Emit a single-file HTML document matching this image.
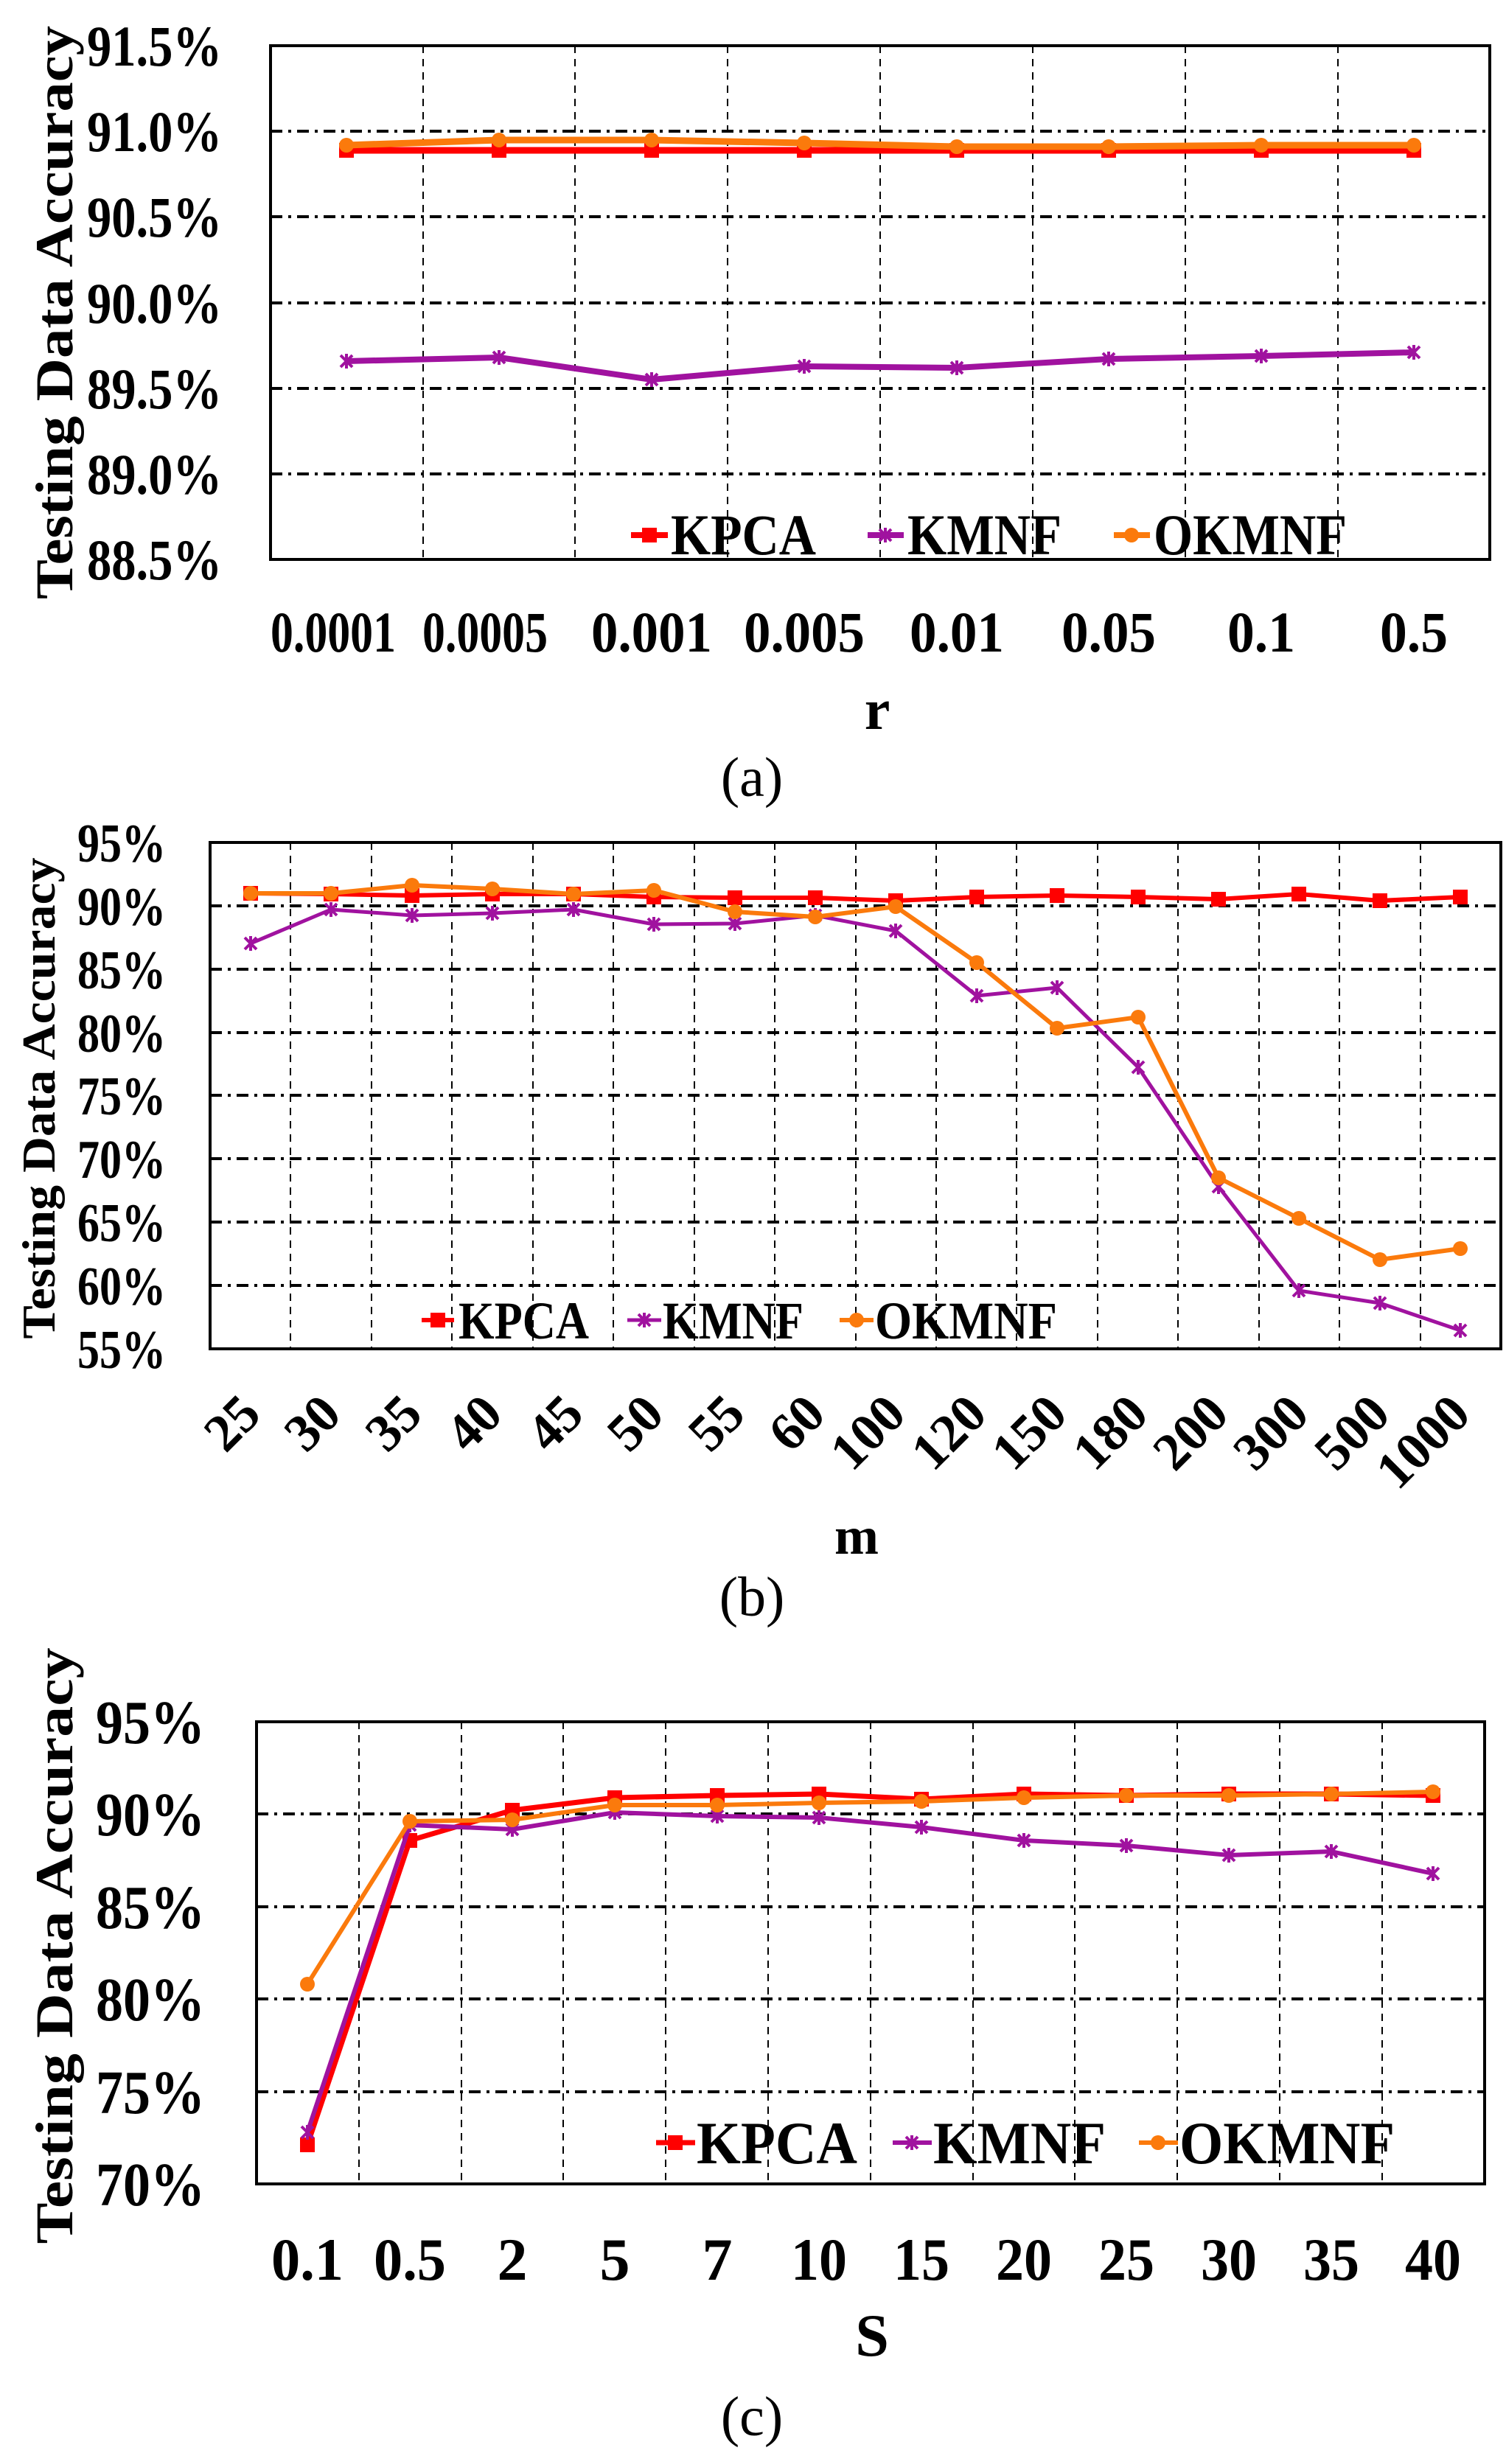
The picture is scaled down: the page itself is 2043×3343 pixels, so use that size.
<!DOCTYPE html>
<html><head><meta charset="utf-8"><style>
html,body{margin:0;padding:0;background:#fff;}
svg{display:block;}
text{font-family:"Liberation Serif",serif;font-weight:bold;fill:#000;}
.hg{stroke:#000;stroke-width:4;stroke-dasharray:16 8 4 8;fill:none;}
.vg{stroke:#000;stroke-width:2;stroke-dasharray:10 8;fill:none;}
.box{stroke:#000;stroke-width:4;fill:none;}
.kp{stroke:#ff0000;fill:none;stroke-linejoin:round;}
.km{stroke:#a0129f;fill:none;stroke-linejoin:round;}
.ok{stroke:#fb7a0c;fill:none;stroke-linejoin:round;}
</style></head><body>
<svg width="2043" height="3343" viewBox="0 0 2043 3343" xmlns="http://www.w3.org/2000/svg">
<defs>
<marker id="mS" markerUnits="userSpaceOnUse" markerWidth="24" markerHeight="24" refX="12" refY="12"><rect x="2" y="2" width="20" height="20" fill="#ff0000"/></marker>
<marker id="mX" markerUnits="userSpaceOnUse" markerWidth="24" markerHeight="24" refX="12" refY="12"><path d="M4 4L20 20M20 4L4 20M12 2V22" stroke="#a0129f" stroke-width="4"/></marker>
<marker id="mO" markerUnits="userSpaceOnUse" markerWidth="24" markerHeight="24" refX="12" refY="12"><circle cx="12" cy="12" r="10" fill="#fb7a0c"/></marker>
</defs>

<!-- ===== (a) ===== -->
<g>
<path class="hg" d="M367 178H2021M367 294H2021M367 411H2021M367 527H2021M367 643H2021"/>
<path class="vg" d="M574 62V759M780 62V759M987 62V759M1194 62V759M1401 62V759M1608 62V759M1815 62V759"/>
<rect class="box" x="367" y="62" width="1654" height="697"/>
<polyline class="kp" stroke-width="9" marker-start="url(#mS)" marker-mid="url(#mS)" marker-end="url(#mS)" points="470,204 677,204 884,204 1091,204 1298,204 1504,204 1711,204 1918,204"/>
<polyline class="ok" stroke-width="9" marker-start="url(#mO)" marker-mid="url(#mO)" marker-end="url(#mO)" points="470,197 677,190 884,190 1091,194 1298,199 1504,199 1711,197 1918,197"/>
<polyline class="km" stroke-width="8" marker-start="url(#mX)" marker-mid="url(#mX)" marker-end="url(#mX)" points="470,490 677,485 884,515 1091,497 1298,499 1504,487 1711,483 1918,478"/>
<g font-size="78" text-anchor="end">
<text x="301" y="89" textLength="183" lengthAdjust="spacingAndGlyphs">91.5%</text>
<text x="301" y="205" textLength="183" lengthAdjust="spacingAndGlyphs">91.0%</text>
<text x="301" y="321" textLength="183" lengthAdjust="spacingAndGlyphs">90.5%</text>
<text x="301" y="438" textLength="183" lengthAdjust="spacingAndGlyphs">90.0%</text>
<text x="301" y="554" textLength="183" lengthAdjust="spacingAndGlyphs">89.5%</text>
<text x="301" y="670" textLength="183" lengthAdjust="spacingAndGlyphs">89.0%</text>
<text x="301" y="786" textLength="183" lengthAdjust="spacingAndGlyphs">88.5%</text>
</g>
<text transform="translate(98,424) rotate(-90)" font-size="72" text-anchor="middle" textLength="778" lengthAdjust="spacingAndGlyphs">Testing Data Accuracy</text>
<g font-size="78" text-anchor="middle">
<text x="452" y="884" textLength="170" lengthAdjust="spacingAndGlyphs">0.0001</text>
<text x="658" y="884" textLength="170" lengthAdjust="spacingAndGlyphs">0.0005</text>
<text x="884" y="884" textLength="164" lengthAdjust="spacingAndGlyphs">0.001</text>
<text x="1091" y="884" textLength="164" lengthAdjust="spacingAndGlyphs">0.005</text>
<text x="1298" y="884" textLength="128" lengthAdjust="spacingAndGlyphs">0.01</text>
<text x="1504" y="884" textLength="128" lengthAdjust="spacingAndGlyphs">0.05</text>
<text x="1711" y="884" textLength="92" lengthAdjust="spacingAndGlyphs">0.1</text>
<text x="1918" y="884" textLength="92" lengthAdjust="spacingAndGlyphs">0.5</text>
<text x="1190" y="989">r</text>
</g>
<text x="1020" y="1080" font-size="76" text-anchor="middle" style="font-weight:normal">(a)</text>
<polyline points="856,726 881,726 906,726" stroke="#ff0000" stroke-width="8" marker-mid="url(#mS)"/>
<text x="910" y="752" font-size="78" textLength="197" lengthAdjust="spacingAndGlyphs">KPCA</text>
<polyline points="1177,726 1201,726 1226,726" stroke="#a0129f" stroke-width="8" marker-mid="url(#mX)"/>
<text x="1231" y="752" font-size="78" textLength="209" lengthAdjust="spacingAndGlyphs">KMNF</text>
<polyline points="1511,726 1535,726 1560,726" stroke="#fb7a0c" stroke-width="8" marker-mid="url(#mO)"/>
<text x="1565" y="752" font-size="78" textLength="262" lengthAdjust="spacingAndGlyphs">OKMNF</text>
</g>

<!-- ===== (b) ===== -->
<g>
<path class="hg" d="M285 1229H2036M285 1315H2036M285 1401H2036M285 1486H2036M285 1572H2036M285 1658H2036M285 1744H2036"/>
<path class="vg" d="M394 1143V1830M504 1143V1830M613 1143V1830M723 1143V1830M832 1143V1830M942 1143V1830M1051 1143V1830M1161 1143V1830M1270 1143V1830M1379 1143V1830M1489 1143V1830M1598 1143V1830M1708 1143V1830M1817 1143V1830M1927 1143V1830"/>
<rect class="box" x="285" y="1143" width="1751" height="687"/>
<polyline class="kp" stroke-width="6" marker-start="url(#mS)" marker-mid="url(#mS)" marker-end="url(#mS)" points="340,1212 449,1213 559,1215 668,1213 778,1213 887,1217 997,1218 1106,1218 1215,1222 1325,1217 1434,1215 1544,1217 1653,1220 1762,1213 1872,1222 1981,1217"/>
<polyline class="km" stroke-width="5" marker-start="url(#mX)" marker-mid="url(#mX)" marker-end="url(#mX)" points="340,1280 449,1234 559,1242 668,1239 778,1234 887,1254 997,1253 1106,1242 1215,1263 1325,1351 1434,1340 1544,1448 1653,1610 1762,1751 1872,1768 1981,1805"/>
<polyline class="ok" stroke-width="6" marker-start="url(#mO)" marker-mid="url(#mO)" marker-end="url(#mO)" points="340,1212 449,1212 559,1201 668,1206 778,1213 887,1208 997,1237 1106,1244 1215,1230 1325,1306 1434,1395 1544,1380 1653,1598 1762,1653 1872,1709 1981,1694"/>
<g font-size="74" text-anchor="end">
<text x="225" y="1169" textLength="120" lengthAdjust="spacingAndGlyphs">95%</text>
<text x="225" y="1255" textLength="120" lengthAdjust="spacingAndGlyphs">90%</text>
<text x="225" y="1341" textLength="120" lengthAdjust="spacingAndGlyphs">85%</text>
<text x="225" y="1427" textLength="120" lengthAdjust="spacingAndGlyphs">80%</text>
<text x="225" y="1512" textLength="120" lengthAdjust="spacingAndGlyphs">75%</text>
<text x="225" y="1598" textLength="120" lengthAdjust="spacingAndGlyphs">70%</text>
<text x="225" y="1684" textLength="120" lengthAdjust="spacingAndGlyphs">65%</text>
<text x="225" y="1770" textLength="120" lengthAdjust="spacingAndGlyphs">60%</text>
<text x="225" y="1856" textLength="120" lengthAdjust="spacingAndGlyphs">55%</text>
</g>
<text transform="translate(74,1490) rotate(-90)" font-size="64" text-anchor="middle" textLength="653" lengthAdjust="spacingAndGlyphs">Testing Data Accuracy</text>
<g font-size="72" text-anchor="end">
<text transform="translate(357,1922) rotate(-45)">25</text>
<text transform="translate(466,1922) rotate(-45)">30</text>
<text transform="translate(576,1922) rotate(-45)">35</text>
<text transform="translate(685,1922) rotate(-45)">40</text>
<text transform="translate(795,1922) rotate(-45)">45</text>
<text transform="translate(904,1922) rotate(-45)">50</text>
<text transform="translate(1014,1922) rotate(-45)">55</text>
<text transform="translate(1123,1922) rotate(-45)">60</text>
<text transform="translate(1232,1922) rotate(-45)">100</text>
<text transform="translate(1342,1922) rotate(-45)">120</text>
<text transform="translate(1451,1922) rotate(-45)">150</text>
<text transform="translate(1561,1922) rotate(-45)">180</text>
<text transform="translate(1670,1922) rotate(-45)">200</text>
<text transform="translate(1779,1922) rotate(-45)">300</text>
<text transform="translate(1889,1922) rotate(-45)">500</text>
<text transform="translate(1998,1922) rotate(-45)">1000</text>
</g>
<text x="1162" y="2108" font-size="72" text-anchor="middle">m</text>
<text x="1020" y="2192" font-size="76" text-anchor="middle" style="font-weight:normal">(b)</text>
<polyline points="572,1791 594,1791 616,1791" stroke="#ff0000" stroke-width="6" marker-mid="url(#mS)"/>
<text x="622" y="1816" font-size="72" textLength="177" lengthAdjust="spacingAndGlyphs">KPCA</text>
<polyline points="851,1791 874,1791 897,1791" stroke="#a0129f" stroke-width="5" marker-mid="url(#mX)"/>
<text x="899" y="1816" font-size="72" textLength="191" lengthAdjust="spacingAndGlyphs">KMNF</text>
<polyline points="1139,1791 1162,1791 1185,1791" stroke="#fb7a0c" stroke-width="6" marker-mid="url(#mO)"/>
<text x="1187" y="1816" font-size="72" textLength="247" lengthAdjust="spacingAndGlyphs">OKMNF</text>
</g>

<!-- ===== (c) ===== -->
<g>
<path class="hg" d="M348 2461H2014M348 2587H2014M348 2712H2014M348 2838H2014"/>
<path class="vg" d="M487 2336V2963M626 2336V2963M764 2336V2963M903 2336V2963M1042 2336V2963M1181 2336V2963M1320 2336V2963M1458 2336V2963M1597 2336V2963M1736 2336V2963M1875 2336V2963"/>
<rect class="box" x="348" y="2336" width="1666" height="627"/>
<polyline class="kp" stroke-width="7" marker-start="url(#mS)" marker-mid="url(#mS)" marker-end="url(#mS)" points="417,2910 556,2497 695,2456 834,2439 973,2436 1111,2434 1250,2441 1389,2434 1528,2436 1667,2434 1806,2434 1944,2436"/>
<polyline class="km" stroke-width="6" marker-start="url(#mX)" marker-mid="url(#mX)" marker-end="url(#mX)" points="417,2893 556,2476 695,2482 834,2459 973,2464 1111,2466 1250,2479 1389,2497 1528,2504 1667,2517 1806,2512 1944,2542"/>
<polyline class="ok" stroke-width="6" marker-start="url(#mO)" marker-mid="url(#mO)" marker-end="url(#mO)" points="417,2692 556,2471 695,2469 834,2449 973,2449 1111,2446 1250,2444 1389,2439 1528,2436 1667,2436 1806,2434 1944,2431"/>
<g font-size="84" text-anchor="end">
<text x="278" y="2365" textLength="148" lengthAdjust="spacingAndGlyphs">95%</text>
<text x="278" y="2490" textLength="148" lengthAdjust="spacingAndGlyphs">90%</text>
<text x="278" y="2616" textLength="148" lengthAdjust="spacingAndGlyphs">85%</text>
<text x="278" y="2741" textLength="148" lengthAdjust="spacingAndGlyphs">80%</text>
<text x="278" y="2867" textLength="148" lengthAdjust="spacingAndGlyphs">75%</text>
<text x="278" y="2992" textLength="148" lengthAdjust="spacingAndGlyphs">70%</text>
</g>
<text transform="translate(98,2640) rotate(-90)" font-size="72" text-anchor="middle" textLength="809" lengthAdjust="spacingAndGlyphs">Testing Data Accuracy</text>
<g font-size="82" text-anchor="middle">
<text x="417" y="3093" textLength="98" lengthAdjust="spacingAndGlyphs">0.1</text>
<text x="556" y="3093" textLength="98" lengthAdjust="spacingAndGlyphs">0.5</text>
<text x="695" y="3093">2</text>
<text x="834" y="3093">5</text>
<text x="973" y="3093">7</text>
<text x="1111" y="3093" textLength="76" lengthAdjust="spacingAndGlyphs">10</text>
<text x="1250" y="3093" textLength="76" lengthAdjust="spacingAndGlyphs">15</text>
<text x="1389" y="3093" textLength="76" lengthAdjust="spacingAndGlyphs">20</text>
<text x="1528" y="3093" textLength="76" lengthAdjust="spacingAndGlyphs">25</text>
<text x="1667" y="3093" textLength="76" lengthAdjust="spacingAndGlyphs">30</text>
<text x="1806" y="3093" textLength="76" lengthAdjust="spacingAndGlyphs">35</text>
<text x="1944" y="3093" textLength="76" lengthAdjust="spacingAndGlyphs">40</text>
<text x="1183" y="3196">S</text>
</g>
<text x="1020" y="3304" font-size="76" text-anchor="middle" style="font-weight:normal">(c)</text>
<polyline points="890,2907 916,2907 943,2907" stroke="#ff0000" stroke-width="7" marker-mid="url(#mS)"/>
<text x="945" y="2935" font-size="82" textLength="218" lengthAdjust="spacingAndGlyphs">KPCA</text>
<polyline points="1211,2907 1237,2907 1264,2907" stroke="#a0129f" stroke-width="6" marker-mid="url(#mX)"/>
<text x="1266" y="2935" font-size="82" textLength="234" lengthAdjust="spacingAndGlyphs">KMNF</text>
<polyline points="1545,2907 1571,2907 1598,2907" stroke="#fb7a0c" stroke-width="6" marker-mid="url(#mO)"/>
<text x="1600" y="2935" font-size="82" textLength="292" lengthAdjust="spacingAndGlyphs">OKMNF</text>
</g>
</svg>
</body></html>
